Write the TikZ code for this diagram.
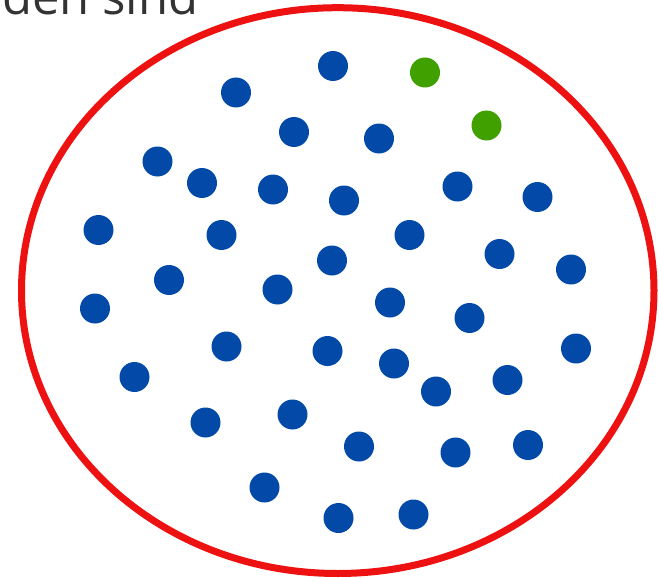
\documentclass[tikz,border=0pt]{standalone}
\usepackage{fontspec}
\setmainfont{Open Sans}
\usepackage{xcolor}
\usepackage{tikz}
\definecolor{punktblau}{HTML}{034AA8}
\definecolor{punktgruen}{HTML}{3FA000}
\definecolor{randrot}{HTML}{EE1111}
\definecolor{textgrau}{HTML}{333333}

\begin{document}
\begin{tikzpicture}[
  x=1pt, y=-1pt,
  punkt/.style={circle, fill=punktblau, inner sep=0pt, minimum size=30pt},
  treffer/.style={punkt, fill=punktgruen},
  rand/.style={draw=randrot, line width=7pt},
  titel/.style={font=\fontsize{49}{57}\selectfont, text=textgrau, inner sep=0pt, anchor=base west}
]
\useasboundingbox (0,0) rectangle (659,578);
\draw[rand] (337.75,290.6) ellipse [x radius=316.25, y radius=282.9];
\node[titel] (titel) at (2,15) {den sind};

\node[treffer] (g1) at (425,72.5) {};
\node[treffer] (g2) at (486.5,125.5) {};

\node[punkt] (p1) at (333,66) {};
\node[punkt] (p2) at (236,92.5) {};
\node[punkt] (p3) at (294,132) {};
\node[punkt] (p4) at (379,138.5) {};
\node[punkt] (p5) at (157.5,161.5) {};
\node[punkt] (p6) at (202,183) {};
\node[punkt] (p7) at (273,189.5) {};
\node[punkt] (p8) at (344,200.5) {};
\node[punkt] (p9) at (457.5,186.5) {};
\node[punkt] (p10) at (537.5,197) {};
\node[punkt] (p11) at (98.5,230) {};
\node[punkt] (p12) at (221.5,235) {};
\node[punkt] (p13) at (409.5,235) {};
\node[punkt] (p14) at (332,260.5) {};
\node[punkt] (p15) at (499.5,254) {};
\node[punkt] (p16) at (571,269.5) {};
\node[punkt] (p17) at (169,280) {};
\node[punkt] (p18) at (277.5,289.5) {};
\node[punkt] (p19) at (95,308.5) {};
\node[punkt] (p20) at (390,302.5) {};
\node[punkt] (p21) at (469.5,318) {};
\node[punkt] (p22) at (226.5,346.5) {};
\node[punkt] (p23) at (327.5,351) {};
\node[punkt] (p24) at (576,348.5) {};
\node[punkt] (p25) at (134.5,377) {};
\node[punkt] (p26) at (394,363.5) {};
\node[punkt] (p27) at (436,391.5) {};
\node[punkt] (p28) at (507.5,380) {};
\node[punkt] (p29) at (205.5,422.5) {};
\node[punkt] (p30) at (292.5,414.5) {};
\node[punkt] (p31) at (359,446.5) {};
\node[punkt] (p32) at (455.5,452.5) {};
\node[punkt] (p33) at (528,445) {};
\node[punkt] (p34) at (264.5,487.5) {};
\node[punkt] (p35) at (338.5,518) {};
\node[punkt] (p36) at (413.5,514.5) {};
\end{tikzpicture}
\end{document}
